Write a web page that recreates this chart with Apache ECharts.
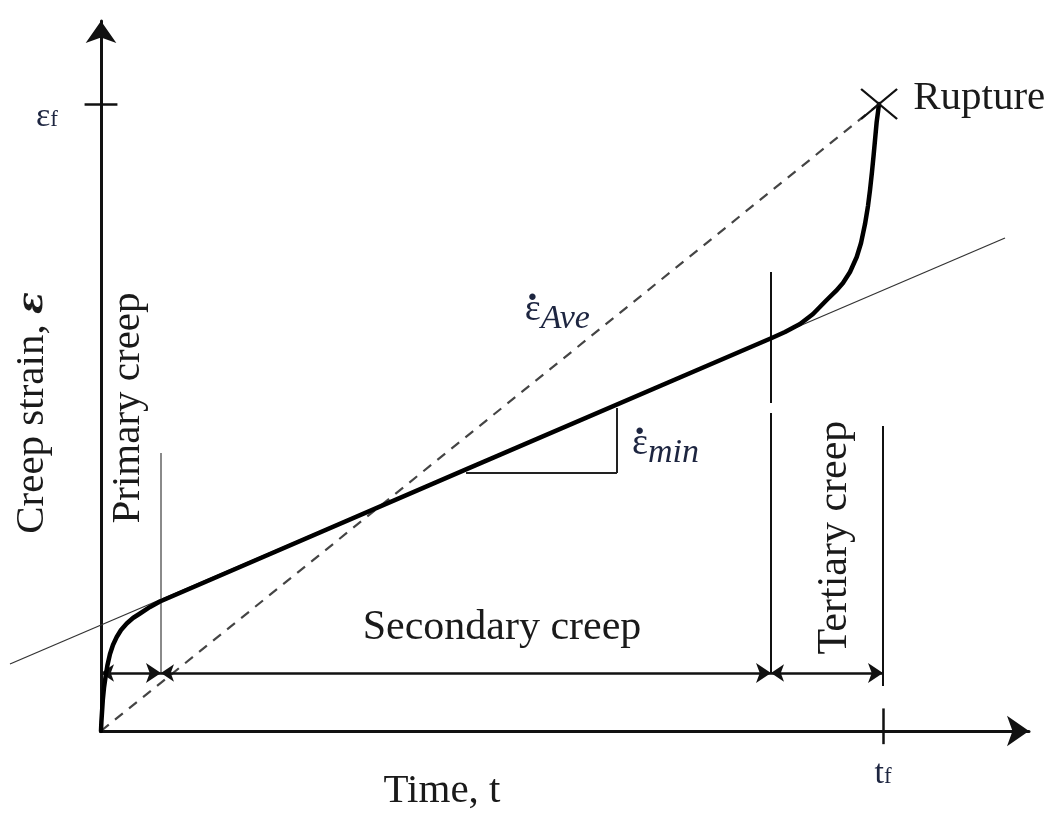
<!DOCTYPE html>
<html><head><meta charset="utf-8">
<script src="https://cdn.jsdelivr.net/npm/echarts@6/dist/echarts.min.js"></script>
<style>html,body{margin:0;padding:0;background:#fff}#c{width:1061px;height:816px}</style>
</head><body><div id="c"></div>
<script>
// ---- data (time in % of rupture time tf, strain in % of rupture strain εf) ----
const creepTime = [0, 0.05, 0.13, 0.23, 0.38, 0.58, 0.83, 1.15, 1.53, 2.01, 2.56, 3.29, 4.09, 4.99, 6.27, 7.54,
  46.68, 85.77, 87.47, 89.39, 91.05, 92.80, 93.99, 94.88, 95.78, 96.64, 97.19, 97.70, 98.08, 98.34, 98.59, 98.79, 98.98, 99.19, 99.36, 99.49];
const creepStrain = [0, 1.44, 3.03, 4.94, 6.86, 8.61, 10.53, 12.28, 13.72, 14.99, 16.11, 17.15, 18.02, 18.74, 19.78, 20.65,
  41.72, 62.68, 63.64, 64.91, 66.51, 68.74, 70.18, 71.45, 73.21, 75.60, 77.83, 80.86, 83.73, 86.28, 89.15, 91.71, 94.26, 97.13, 98.72, 100];
const tfTime = 100;
const epsF = 100;
const ruptureTime = 99.5;
const ruptureStrain = 100;
const tangentTime = [-11.64, 115.6];
const tangentStrain = [10.69, 78.63];
const aveTime = [0, ruptureTime];
const aveStrain = [0, ruptureStrain];
const minRateTime = [46.68, 65.98, 65.98];
const minRateStrain = [41.15, 41.15, 51.52];
const stageBoundTime = [7.67, 85.68, tfTime];
const stageBoundTop = [44.34, 73.21, 48.64];
const stageBoundBottom = [9.25, 9.25, 7.18];
const secondaryGap = [50.72, 52.31];
const spanStrain = 9.25;
const stageNames = ['Primary creep', 'Secondary creep', 'Tertiary creep'];
const stageLabelTime = [3.45, 51.28, 93.86];
const stageLabelStrain = [51.52, 16.43, 30.86];
const rateNames = ['Ave', 'min'];
const rateLabelTime = [54.2, 67.9];
const rateLabelStrain = [67.46, 46.09];
const tickHalfX = 2.1;   // εf tick half-length (time units)
const tickHalfY = 3.0;   // tf tick half-length (strain units)

const FONT = 'Liberation Serif';
const INK = '#1a1a1a';
const MATH = '#1d2540';

const seg = (x1, y1, x2, y2, style) => ({ coords: [[x1, y1], [x2, y2]], lineStyle: Object.assign({ opacity: 1 }, style) });

const thinLines = [];
thinLines.push(seg(tangentTime[0], tangentStrain[0], tangentTime[1], tangentStrain[1], { color: '#333', width: 1.3 }));
thinLines.push(seg(minRateTime[0], minRateStrain[0], minRateTime[1], minRateStrain[1], { color: '#222', width: 2 }));
thinLines.push(seg(minRateTime[1], minRateStrain[1], minRateTime[2], minRateStrain[2], { color: '#222', width: 2 }));
thinLines.push(seg(stageBoundTime[0], stageBoundBottom[0], stageBoundTime[0], stageBoundTop[0], { color: '#8a8a8a', width: 2 }));
thinLines.push(seg(stageBoundTime[1], stageBoundBottom[1], stageBoundTime[1], secondaryGap[0], { color: '#111', width: 2 }));
thinLines.push(seg(stageBoundTime[1], secondaryGap[1], stageBoundTime[1], stageBoundTop[1], { color: '#111', width: 2 }));
thinLines.push(seg(stageBoundTime[2], stageBoundBottom[2], stageBoundTime[2], stageBoundTop[2], { color: '#111', width: 2 }));
thinLines.push(seg(-tickHalfX, epsF, tickHalfX, epsF, { color: '#111', width: 2.5 }));
thinLines.push(seg(tfTime, -tickHalfY * 0.7, tfTime, tickHalfY * 1.2, { color: '#111', width: 2.5 }));

const spanEdges = [0].concat(stageBoundTime);
const spans = [];
for (let i = 0; i < spanEdges.length - 1; i++) {
  spans.push(seg(spanEdges[i], spanStrain, spanEdges[i + 1], spanStrain, { color: '#111', width: 2.5 }));
}

const chart = echarts.init(document.getElementById('c'), null, { renderer: 'canvas' });
chart.setOption({
  animation: false,
  backgroundColor: '#fff',
  grid: { left: 101, right: 32, top: 21, bottom: 85, containLabel: false, outerBoundsMode: 'none' },
  xAxis: {
    type: 'value', min: 0, max: 118.67,
    axisLine: { show: true, lineStyle: { color: '#111', width: 3 }, symbol: ['none', 'arrow'], symbolSize: [23, 22] },
    axisTick: { show: false }, splitLine: { show: false },
    axisLabel: {
      customValues: [tfTime], margin: 26,
      formatter: () => '{t|t}{f|f}',
      rich: {
        t: { fontFamily: FONT, fontSize: 34, color: MATH },
        f: { fontFamily: FONT, fontSize: 23, color: MATH, padding: [6, 0, 0, 0] }
      }
    },
    name: 'Time, t', nameLocation: 'middle', nameGap: 40, nameMoveOverlap: false,
    nameTextStyle: { fontFamily: FONT, fontSize: 41, color: INK, padding: [0, 246, 0, 0] }
  },
  yAxis: {
    type: 'value', min: 0, max: 113.24,
    axisLine: { show: true, lineStyle: { color: '#111', width: 3 }, symbol: ['none', 'arrow'], symbolSize: [23, 22] },
    axisTick: { show: false }, splitLine: { show: false },
    axisLabel: {
      customValues: [epsF], margin: 43, padding: [26, 0, 0, 0],
      formatter: () => '{e|ε}{f|f}',
      rich: {
        e: { fontFamily: FONT, fontSize: 34, color: MATH },
        f: { fontFamily: FONT, fontSize: 23, color: MATH, padding: [6, 0, 0, 0] }
      }
    },
    name: 'Creep strain, {b|ε}', nameLocation: 'middle', nameGap: 48, nameMoveOverlap: false,
    nameTextStyle: {
      fontFamily: FONT, fontSize: 41, color: INK, padding: [0, 74, 0, 0],
      rich: { b: { fontFamily: 'DejaVu Serif', fontSize: 36, fontWeight: 'bold', fontStyle: 'italic', color: INK } }
    }
  },
  series: [
    {
      type: 'lines', coordinateSystem: 'cartesian2d', silent: true, clip: false, z: 1,
      data: [seg(aveTime[0], aveStrain[0], aveTime[1], aveStrain[1], { color: '#444', width: 2.2, type: [10, 8] })]
    },
    { type: 'lines', coordinateSystem: 'cartesian2d', silent: true, clip: false, z: 2, data: thinLines },
    {
      type: 'lines', coordinateSystem: 'cartesian2d', silent: true, clip: false, z: 3,
      symbol: ['arrow', 'arrow'], symbolSize: [13, 15], symbolOffset: [0, 7], data: spans
    },
    {
      type: 'line', silent: true, z: 4, symbol: 'none', smooth: false,
      lineStyle: { color: '#000', width: 4.5, join: 'round', cap: 'round' },
      data: creepTime.map((t, i) => [t, creepStrain[i]])
    },
    {
      type: 'scatter', silent: true, z: 5, clip: false,
      symbol: 'path://M0,0L10,10M10,0L0,10', symbolSize: [36, 30],
      itemStyle: { color: 'rgba(0,0,0,0)', borderColor: '#111', borderWidth: 2, opacity: 1 },
      label: { show: true, position: 'right', distance: 15, offset: [0, -6], formatter: 'Rupture', fontFamily: FONT, fontSize: 41, color: INK, opacity: 1 },
      data: [[ruptureTime, ruptureStrain]]
    },
    {
      type: 'scatter', silent: true, z: 6, clip: false, symbolSize: 0,
      itemStyle: { opacity: 1 },
      label: { show: true, position: 'inside', formatter: '{b}', fontFamily: FONT, fontSize: 42, color: INK, opacity: 1 },
      data: stageNames.map((n, i) => ({ name: n, value: [stageLabelTime[i], stageLabelStrain[i]], label: { rotate: i === 1 ? 0 : 90, fontSize: i === 0 ? 41 : 42 } }))
    },
    {
      type: 'scatter', silent: true, z: 6, clip: false, symbolSize: 0,
      itemStyle: { opacity: 1 },
      label: {
        show: true, position: 'right', distance: 0, opacity: 1, align: 'left',
        formatter: (p) => '{d|·}\n{e|ε}{s|' + p.name + '}',
        rich: {
          d: { fontFamily: FONT, fontSize: 40, fontWeight: 'bold', color: MATH, lineHeight: 4, padding: [0, 0, 0, 1] },
          e: { fontFamily: FONT, fontSize: 38, color: MATH, lineHeight: 16 },
          s: { fontFamily: FONT, fontSize: 34, fontStyle: 'italic', color: MATH, lineHeight: 16, padding: [18, 0, 0, 0] }
        }
      },
      data: rateNames.map((n, i) => ({ name: n, value: [rateLabelTime[i], rateLabelStrain[i]] }))
    }
  ]
});
</script></body></html>
